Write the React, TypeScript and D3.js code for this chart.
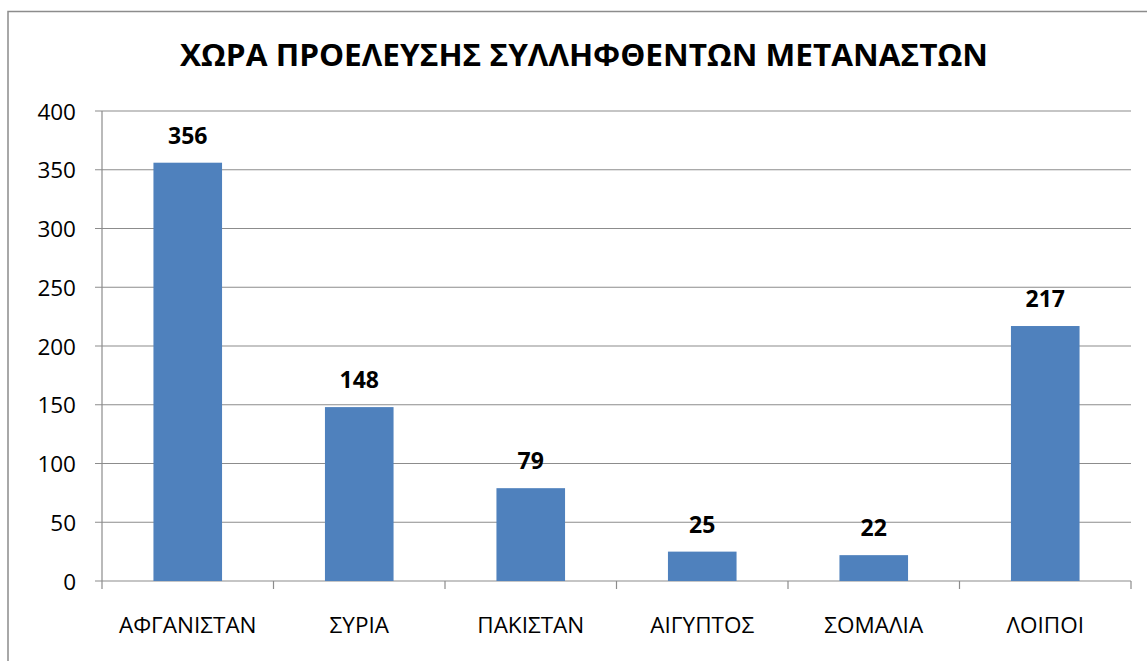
import React from "react";
import * as d3 from "d3";

const title = "ΧΩΡΑ ΠΡΟΕΛΕΥΣΗΣ ΣΥΛΛΗΦΘΕΝΤΩΝ ΜΕΤΑΝΑΣΤΩΝ";
const categories = ["ΑΦΓΑΝΙΣΤΑΝ", "ΣΥΡΙΑ", "ΠΑΚΙΣΤΑΝ", "ΑΙΓΥΠΤΟΣ", "ΣΟΜΑΛΙΑ", "ΛΟΙΠΟΙ"];
const values = [356, 148, 79, 25, 22, 217];
const yTicks = [0, 50, 100, 150, 200, 250, 300, 350, 400];

const W = 1147;
const H = 661;
const plotLeft = 102;
const plotRight = 1131;
const plotTop = 111;
const plotBottom = 581;
const font = "'Open Sans', 'Liberation Sans', sans-serif";

export default function App() {
  const x = d3.scaleBand<string>().domain(categories).range([plotLeft, plotRight]).paddingInner(0.6).paddingOuter(0.3);
  const y = d3.scaleLinear().domain([0, 400]).range([plotBottom, plotTop]);
  const step = (plotRight - plotLeft) / categories.length;
  const catTicks = d3.range(categories.length + 1).map((i) => plotLeft + i * step);

  return (
    <svg width={W} height={H} style={{ position: "fixed", left: 0, top: 0, background: "#fff" }}>
      <rect x={0} y={0} width={W} height={H} fill="#fff" />
      <rect x={8} y={11.5} width={W + 10} height={H + 10} fill="none" stroke="#8c8c8c" strokeWidth={1.5} />
      <text x={584} y={66} textAnchor="middle" fontFamily={font} fontWeight="bold" fontSize={31} textLength={808} lengthAdjust="spacingAndGlyphs" fill="#000">
        {title}
      </text>
      {yTicks.map((t) => (
        <g key={t}>
          <line x1={95} x2={plotRight} y1={y(t)} y2={y(t)} stroke="#8c8c8c" strokeWidth={1.2} />
          <text x={76} y={y(t) + 8.5} textAnchor="end" fontFamily={font} fontSize={22.5} fill="#000">{t}</text>
        </g>
      ))}
      <line x1={plotLeft} x2={plotLeft} y1={plotTop} y2={plotBottom} stroke="#8c8c8c" strokeWidth={1.2} />
      {catTicks.map((cx, i) => (
        <line key={i} x1={cx} x2={cx} y1={plotBottom} y2={plotBottom + 8} stroke="#8c8c8c" strokeWidth={1.2} />
      ))}
      {categories.map((c, i) => (
        <g key={c}>
          <rect x={x(c)} y={y(values[i])} width={x.bandwidth()} height={plotBottom - y(values[i])} fill="#4F81BD" />
          <text x={(x(c) as number) + x.bandwidth() / 2} y={y(values[i]) - 19} textAnchor="middle" fontFamily={font} fontWeight="bold" fontSize={23} fill="#000">{values[i]}</text>
          <text x={(x(c) as number) + x.bandwidth() / 2} y={633} textAnchor="middle" fontFamily={font} fontSize={22.5} fill="#000">{c}</text>
        </g>
      ))}
    </svg>
  );
}
